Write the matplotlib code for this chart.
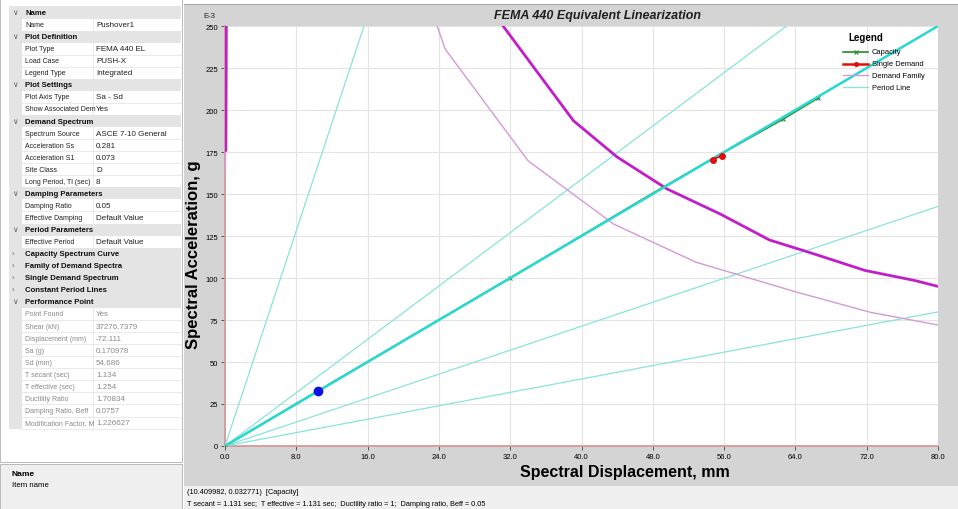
import matplotlib
matplotlib.use("Agg")
import matplotlib.pyplot as plt
from matplotlib.lines import Line2D
from matplotlib.patches import Rectangle
import numpy as np

plt.rcParams['font.family'] = ['Liberation Sans', 'DejaVu Sans']

W, H = 958, 510

# ---- chart data: Sd in mm, Sa in g (x 1E-3) ----
nan = np.nan
cap_sd = [0.0, 10.41, 32.0, 48.0, 54.7, 62.6, 66.5]
cap_sa = [0.0, 32.77, 100.0, 150.5, 171.0, 194.5, 207.0]

single_sd = [0.1, 0.15, nan, 31.2, 39.1, 44.0, 49.6, 55.6, 61.1, 66.0, 71.8, 77.4, 80.0]
single_sa = [176.0, 250.0, nan, 250.0, 193.6, 172.0, 153.0, 138.0, 122.6, 114.5, 104.5, 98.5, 95.0]

family_sd = [0.05, 0.1, nan, 23.8, 24.7, 34.0, 43.6, 52.9, 64.2, 72.4, 80.0]
family_sa = [163.0, 250.0, nan, 250.0, 236.3, 169.8, 132.1, 109.3, 91.5, 79.6, 72.0]

# constant period lines (T = 0.5, 1.0, 1.5, 2.0 s), end points where they leave the plot
period_end_sd = [15.6, 63.0, 80.0, 80.0]
period_end_sa = [250.0, 250.0, 142.6, 79.8]
# secant period line (T = 1.131 s)
secant_end_sd = 80.0
secant_end_sa = 250.0

perf_sd = [54.7, 55.8]
perf_sa = [170.5, 172.8]
cursor_sd = 10.41
cursor_sa = 32.77

x_ticks = [0, 8, 16, 24, 32, 40, 48, 56, 64, 72, 80]
y_ticks = [0, 25, 50, 75, 100, 125, 150, 175, 200, 225, 250]

# ---- property grid ----
prop_rows = [
    ("v", "Name", ""),
    ("", "Name", "Pushover1"),
    ("v", "Plot Definition", ""),
    ("", "Plot Type", "FEMA 440 EL"),
    ("", "Load Case", "PUSH-X"),
    ("", "Legend Type", "Integrated"),
    ("v", "Plot Settings", ""),
    ("", "Plot Axis Type", "Sa - Sd"),
    ("", "Show Associated Dem", "Yes"),
    ("v", "Demand Spectrum", ""),
    ("", "Spectrum Source", "ASCE 7-10 General"),
    ("", "Acceleration Ss", "0.281"),
    ("", "Acceleration S1", "0.073"),
    ("", "Site Class", "D"),
    ("", "Long Period, Tl (sec)", "8"),
    ("v", "Damping Parameters", ""),
    ("", "Damping Ratio", "0.05"),
    ("", "Effective Damping", "Default Value"),
    ("v", "Period Parameters", ""),
    ("", "Effective Period", "Default Value"),
    (">", "Capacity Spectrum Curve", ""),
    (">", "Family of Demand Spectra", ""),
    (">", "Single Demand Spectrum", ""),
    (">", "Constant Period Lines", ""),
    ("v", "Performance Point", ""),
    ("-", "Point Found", "Yes"),
    ("-", "Shear (kN)", "37276.7379"),
    ("-", "Displacement (mm)", "-72.111"),
    ("-", "Sa (g)", "0.170978"),
    ("-", "Sd (mm)", "54.686"),
    ("-", "T secant (sec)", "1.134"),
    ("-", "T effective (sec)", "1.254"),
    ("-", "Ductility Ratio", "1.70834"),
    ("-", "Damping Ratio, Beff", "0.0757"),
    ("-", "Modification Factor, M", "1.226627"),
]

status_line1 = "(10.409982, 0.032771)  [Capacity]"
status_line2 = ("T secant = 1.131 sec;  T effective = 1.131 sec;  Ductility ratio = 1;  "
                "Damping ratio, Beff = 0.05")


def fx(x):
    return x / W


def fy(y):
    return 1 - y / H


def rect(x, y, w, h, color, ec="none", lw=0):
    fig.add_artist(Rectangle((fx(x), fy(y + h)), w / W, h / H, facecolor=color,
                             edgecolor=ec, linewidth=lw, zorder=-5))


def hline(x0, x1, y, color, lw=0.6):
    fig.add_artist(Line2D([fx(x0), fx(x1)], [fy(y), fy(y)], color=color, lw=lw, zorder=-4))


def vline(x, y0, y1, color, lw=0.6):
    fig.add_artist(Line2D([fx(x), fx(x)], [fy(y0), fy(y1)], color=color, lw=lw, zorder=-4))


fig = plt.figure(figsize=(W / 100, H / 100), dpi=100)
fig.patch.set_facecolor("white")

# left property panel
rect(0, 0, 182, 463, "white", ec="#b0b0b0", lw=0.6)
row_h = 12.06
y0 = 13.5
for i, (kind, label, value) in enumerate(prop_rows):
    yc = y0 + i * row_h
    if kind in ("v", ">"):
        rect(9, yc - row_h / 2, 172, row_h, "#e4e4e4")
        fig.text(fx(12), fy(yc), "\u2228" if kind == "v" else "\u203a", fontsize=5.5,
                 color="#606060", ha="left", va="center")
        fig.text(fx(25), fy(yc), label, fontsize=5.6, fontweight="bold",
                 color="#101010", ha="left", va="center")
    else:
        rect(9, yc - row_h / 2, 13, row_h, "#e4e4e4")
        hline(22, 181, yc + row_h / 2, "#e6e6e6")
        vline(93, yc - row_h / 2, yc + row_h / 2, "#e6e6e6")
        tc = "#8a8a8a" if kind == "-" else "#202020"
        fig.text(fx(25), fy(yc), label, fontsize=5.0, color=tc, ha="left", va="center")
        fig.text(fx(96), fy(yc), value, fontsize=5.8, color=tc, ha="left", va="center")

rect(0, 465, 182, 45, "#efefef", ec="#b0b0b0", lw=0.6)
fig.text(fx(12), fy(475), "Name", fontsize=6, fontweight="bold", ha="left", va="center")
fig.text(fx(12), fy(486), "Item name", fontsize=5.6, ha="left", va="center")

# chart panel
rect(184, 5, 774, 482, "#d4d4d4")
hline(184, 958, 5, "#a8a8a8", lw=0.8)
rect(184, 487, 774, 23, "#f0f0f0")
fig.text(fx(598), fy(16), "FEMA 440 Equivalent Linearization", fontsize=9,
         fontweight="bold", style="italic", ha="center", va="center", color="#202020")
fig.text(fx(203), fy(16), "E-3", fontsize=5.5, ha="left", va="center", color="#202020")
fig.text(fx(187), fy(493), status_line1, fontsize=5.3, ha="left", va="center")
fig.text(fx(187), fy(505), status_line2, fontsize=5.3, ha="left", va="center")

ax = fig.add_axes([fx(225), fy(447), (938 - 225) / W, (447 - 27) / H])
ax.set_facecolor("white")
ax.set_xlim(0, 80)
ax.set_ylim(0, 250)
ax.set_xticks(x_ticks)
ax.set_xticklabels([f"{v:.1f}" for v in x_ticks])
ax.set_yticks(y_ticks)
ax.set_yticklabels([str(v) for v in y_ticks])
ax.tick_params(labelsize=5.5, length=3, width=0.6, color="#404040", pad=2)
ax.grid(True, color="#e4e4e4", lw=0.8)
ax.set_axisbelow(True)
for s in ("top", "right"):
    ax.spines[s].set_visible(False)
for s in ("left", "bottom"):
    ax.spines[s].set_color("#d49a9a")
    ax.spines[s].set_linewidth(1.3)
    ax.spines[s].set_zorder(1)

ax.set_xlabel("Spectral Displacement, mm", fontsize=11.5, fontweight="bold")
ax.set_ylabel("Spectral Acceleration, g", fontsize=12, fontweight="bold")
# label positions (pixels): x label top edge, y label right edge
ax.xaxis.set_label_coords((625 - 225) / (938 - 225), -(465 - 447) / (447 - 27))
ax.yaxis.set_label_coords(-(225 - 201) / (938 - 225), (447 - 255) / (447 - 27))

period_col = "#8ae3dc"
for xe, ye in zip(period_end_sd, period_end_sa):
    ax.plot([0, xe], [0, ye], color=period_col, lw=0.9, zorder=2, clip_on=True)
ax.plot(family_sd, family_sa, color="#d39ad6", lw=1.0, zorder=2)
ax.plot(single_sd, single_sa, color="#c21ec8", lw=2.0, zorder=3)
ax.plot(cap_sd, cap_sa, color="#2a8a2a", lw=1.2, marker="x", ms=2.5, mew=0.8,
        markevery=[0, 2, 5, 6], zorder=3)
ax.plot([0, secant_end_sd], [0, secant_end_sa], color="#27d9d0", lw=1.8, zorder=4)
ax.plot(perf_sd, perf_sa, color="#e01010", lw=1.2, marker="o", ms=4, zorder=5)
ax.plot([cursor_sd], [cursor_sa], "o", color="#1010e0", ms=6, zorder=6)

# legend (drawn in pixel positions, no frame)
fig.text(fx(848), fy(38), "Legend", fontsize=7, fontweight="bold", ha="left", va="center")
leg_items = [("Capacity", "#2a8a2a", 1.2, "x"), ("Single Demand", "#e01010", 1.8, "o"),
             ("Demand Family", "#d39ad6", 1.0, None), ("Period Line", period_col, 1.0, None)]
for i, (name, col, lw, mk) in enumerate(leg_items):
    yy = 53 + i * 11.7
    fig.add_artist(Line2D([fx(843), fx(868)], [fy(yy), fy(yy)], color=col, lw=lw, zorder=10))
    if mk:
        fig.add_artist(Line2D([fx(855.5)], [fy(yy)], color=col, marker=mk, ms=2.8,
                              mew=0.8, zorder=10))
    fig.text(fx(872), fy(yy), name, fontsize=5.4, ha="left", va="center", zorder=10)

fig.savefig("out.png", dpi=100)
